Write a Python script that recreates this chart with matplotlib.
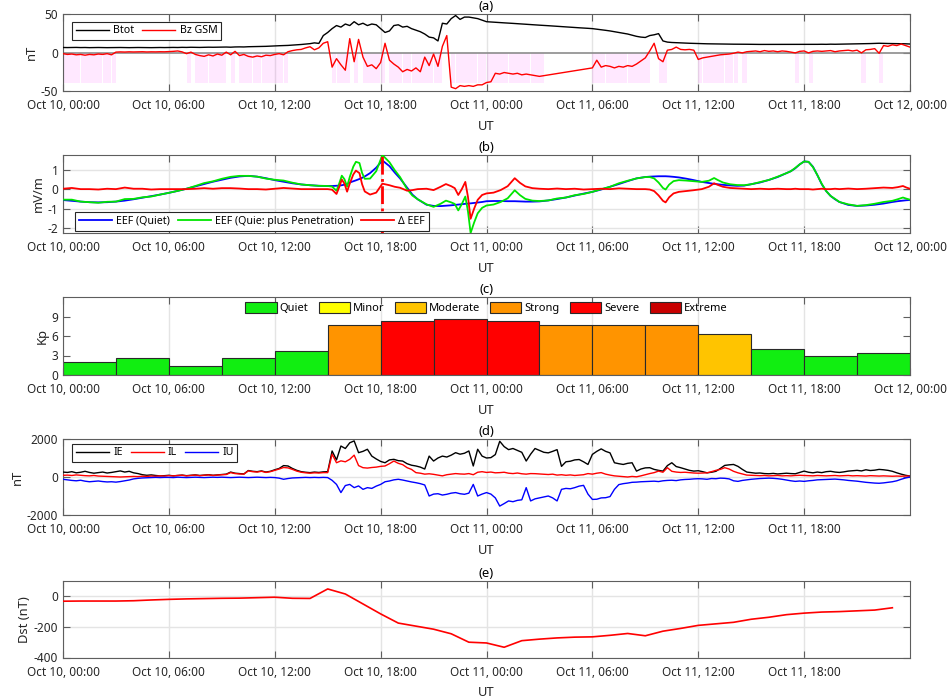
import numpy as np
import matplotlib
matplotlib.use('Agg')
import matplotlib.pyplot as plt
from matplotlib.patches import Patch

plt.rcParams['font.family'] = ['Noto Sans', 'DejaVu Sans']
plt.rcParams['axes.unicode_minus'] = False

# ---------------- axis labels ----------------
tick_hours = [0, 6, 12, 18, 24, 30, 36, 42, 48]
tick_labels = ['Oct 10, 00:00', 'Oct 10, 06:00', 'Oct 10, 12:00', 'Oct 10, 18:00',
               'Oct 11, 00:00', 'Oct 11, 06:00', 'Oct 11, 12:00', 'Oct 11, 18:00',
               'Oct 12, 00:00']

# ---------------- (a) IMF, 15-min samples from Oct 10 00:00 ----------------
imf_step_h = 0.25
btot = [6.5, 6.4, 6.5, 6.6, 6.4, 6.5, 6.3, 6.4, 6.5, 6.4, 6.3, 6.4,
        6.4, 6.5, 6.4, 6.3, 6.4, 6.5, 6.4, 6.4, 6.3, 6.4, 6.5, 6.4,
        6.5, 6.6, 6.5, 6.7, 6.6, 6.8, 6.7, 6.6, 6.8, 6.9, 6.8, 6.9,
        7.0, 7.1, 6.9, 7.2, 7.3, 7.2, 7.5, 7.6, 7.8, 7.7, 8.0, 8.3,
        8.5, 8.8, 9.0, 9.2, 9.6, 10.0, 10.4, 11.0, 11.5, 12.5, 11.8, 22.0,
        26, 31, 35, 33, 37, 35, 40, 36, 38, 35, 37, 36,
        31, 26, 28, 35, 36, 33, 34, 31, 29, 27, 24, 20,
        19, 15, 38, 37, 44, 48, 43, 46, 46, 45, 44, 42,
        40, 39.6, 39.2, 38.9, 38.5, 38.2, 37.8, 37.4, 37.0, 36.6, 36.3, 35.9,
        35.5, 35.2, 34.8, 34.4, 34.0, 33.6, 33.3, 32.9, 32.5, 32.1, 31.8, 31.4,
        31.0, 30.3, 29.5, 28.8, 28.0, 27.0, 26.0, 25.0, 24.0, 22.5, 21.0, 20.0,
        19.5, 22, 23, 24.5, 15, 13.5, 13, 12.8, 12.5, 12.2, 12.0, 11.8,
        11.5, 11.4, 11.3, 11.2, 11.0, 11.0, 10.9, 10.9, 10.8, 10.8, 10.7, 10.7,
        10.6, 10.6, 10.5, 10.5, 10.5, 10.5, 10.4, 10.5, 10.5, 10.4, 10.5, 10.5,
        10.5, 10.6, 10.5, 10.6, 10.7, 10.6, 10.8, 10.7, 10.8, 10.9, 11.0, 11.0,
        11.2, 11.3, 11.5, 11.6, 11.8, 12.0, 11.8, 11.7, 11.6, 11.5, 11.4, 11.3,
        11.0]
nan = np.nan
bz_gsm = [-1.5, -2.5, -2.0, -3.0, -2.5, -3.5, -2.5, -3.0, -2.0, -2.5, -1.5, -3.0,
          0.5, 0.8, 0.6, 0.9, 0.7, 0.8, 1.0, 0.7, 0.9, 0.8, 1.0, 0.9,
          1.2, 1.5, 2.0, 0.8, -1.5, 0.5, -2.5, -4.0, -5.0, -3.0, -4.5, -2.0,
          -3.5, 0.5, -3.0, 1.5, -4.0, -2.5, -5.0, -6.0, -4.5, -5.5, -3.5, -4.0,
          -2.5, -1.5, -3.0, 1.0, 2.5, 3.5, 4.0, 6.0, 7.5, 3.5, 6.0, 12.0,
          14, -19, -8, -16, -23, 18, -12, 17, -6, -18, -16, -21,
          -13, 12, -10, -15, -19, -25, -22, -24, -20, -25, -6, -17,
          -2, -18, 8, 22, -45, -47, -43, -44, -43, -44, -42, -42,
          -39, -38, -27, -28, -26, -27, -28, -27, -29, -28, -29, -30,
          -31, nan, nan, nan, nan, nan, nan, nan, nan, nan, nan, nan,
          -20, -10, -19, -17, -18, -20, -18, -19, -17, -18, -15, -11,
          -7, 2, 12, -8, -12, 3, 4, 7, 4, 3.5, 4, 3,
          -9, -7, -6, -5, -4, -3, -2.5, -2, -1, 0.5, -0.5, 1,
          1.5, 2, 1, 2.5, 1.5, 2, 1, 2, 1.5, 0.5, -0.5, 1.5,
          2, -0.5, 1.5, 2, 1.5, 2, 2.5, 1, 2, 2.5, 3, 2,
          3, -0.5, 3.5, 4, 5, -1, 9, 8, 10, 9, 11, 9,
          7]

# ---------------- (b) equatorial electric field ----------------
eef_hours = [0, 0.5, 1, 1.5, 2, 2.5, 3, 3.5, 4, 4.5, 5, 5.5, 6, 6.5, 7, 7.5, 8, 8.5,
             9, 9.5, 10, 10.5, 11, 11.5, 12, 12.5, 13, 13.5, 14, 14.5,
             15.0, 15.25, 15.5, 15.65, 15.8, 15.95, 16.1, 16.25, 16.45, 16.6, 16.8,
             16.95, 17.1, 17.4, 17.75, 18.1, 18.5, 18.8, 19.1, 19.5, 19.8, 20.1,
             20.6, 21.0, 21.4, 21.7, 22.0, 22.2, 22.4, 22.6, 22.8, 22.95, 23.1,
             23.3, 23.5, 23.75, 24.0, 24.4, 24.8, 25.2, 25.6, 25.9, 26.2, 26.6,
             27.0, 27.5, 28.0, 28.5, 29.0, 29.5, 30.0, 30.5, 31.0, 31.5, 32.0, 32.5, 33.0,
             33.25, 33.5, 33.75, 34.0, 34.15, 34.35, 34.6, 34.9, 35.3, 35.7, 36.2,
             36.6, 36.9, 37.1, 37.4, 37.8, 38.2, 38.6,
             39.0, 39.5, 40.0, 40.5, 41.0, 41.25, 41.5, 41.75, 42.0, 42.25, 42.5,
             42.75, 43.0, 43.25, 43.5, 43.75, 44.0, 44.5, 45.0, 45.5, 46.0, 46.5,
             47.0, 47.3, 47.6, 47.8, 48.0]
eef_quiet = [-0.56, -0.60, -0.64, -0.67, -0.68, -0.67, -0.64, -0.59, -0.52, -0.44,
             -0.36, -0.28, -0.19, -0.09, 0.02, 0.14, 0.26, 0.38, 0.48, 0.58, 0.65,
             0.68, 0.64, 0.56, 0.46, 0.38, 0.30, 0.24, 0.20, 0.17,
             0.16, 0.16, 0.17, 0.18, 0.20, 0.23, 0.26, 0.34, 0.40, 0.45, 0.52,
             0.58, 0.65, 0.82, 1.10, 1.47, 1.18, 0.85, 0.55, 0.08, -0.28, -0.52,
             -0.80, -0.86, -0.87, -0.85, -0.83, -0.81, -0.79, -0.77, -0.75, -0.74,
             -0.73, -0.71, -0.69, -0.66, -0.62, -0.61, -0.61, -0.62, -0.62, -0.63,
             -0.64, -0.64,
             -0.63, -0.58, -0.51, -0.43, -0.33, -0.23, -0.14, -0.02, 0.12, 0.26,
             0.41, 0.55, 0.62,
             0.64, 0.65, 0.66, 0.66, 0.66, 0.65, 0.63, 0.60, 0.54, 0.47, 0.37,
             0.31, 0.27, 0.25, 0.22, 0.19, 0.17, 0.18,
             0.25, 0.34, 0.47, 0.62, 0.82, 0.92, 1.07, 1.27, 1.42, 1.40, 1.15,
             0.72, 0.25, -0.10, -0.35, -0.52, -0.66, -0.81, -0.86, -0.84, -0.80,
             -0.74, -0.66, -0.62, -0.59, -0.57, -0.56]
eef_delta = [0.02, 0.06, 0.0, 0.0, -0.02, 0.02, 0.0, 0.08, 0.02, 0.02,
             -0.02, 0.0, 0.0, 0.0, 0.0, 0.02, 0.05, 0.02, 0.05, 0.05, 0.03,
             0.0, 0.0, -0.02, 0.02, 0.06, 0.03, 0.0, 0.0, 0.0,
             0.0, -0.03, -0.25, 0.10, 0.49, 0.28, -0.13, 0.28, 0.75, 0.95, 0.82,
             0.25, -0.12, -0.28, -0.18, 0.28, 0.20, 0.12, 0.07, -0.08, -0.05, 0.0,
             0.02, -0.05, 0.12, 0.26, 0.15, 0.05, -0.30, 0.0, 0.37, -0.40,
             -1.52, -1.00, -0.55, -0.30, -0.22, -0.18, -0.05, 0.15, 0.56, 0.32,
             0.14, 0.05,
             0.02, 0.0, 0.03, 0.0, 0.02, -0.02, 0.0, 0.02, 0.0, 0.04,
             0.02, 0.0, 0.0,
             -0.02, -0.10, -0.32, -0.60, -0.68, -0.42, -0.22, -0.14, -0.10, -0.06, 0.0,
             0.12, 0.30, 0.22, 0.12, 0.06, 0.04, 0.02,
             0.0, 0.02, 0.0, 0.02, 0.0, 0.0, 0.02, 0.0, 0.0, 0.0, -0.02,
             0.0, 0.02, 0.0, 0.0, 0.02, 0.0, 0.03, 0.0, 0.02, 0.05,
             0.08, 0.06, 0.10, 0.16, 0.08, 0.02]
eef_marker_hour = 18.05

# ---------------- (c) Kp, 3-hourly ----------------
kp_step_h = 3
kp = [2.0, 2.67, 1.33, 2.67, 3.67, 7.67, 8.33, 8.67,
      8.33, 7.67, 7.67, 7.67, 6.33, 4.0, 3.0, 3.33]
kp_classes = ['Quiet', 'Minor', 'Moderate', 'Strong', 'Severe', 'Extreme']
kp_class_min = [0, 5, 6, 7, 8, 9]
kp_colors = ['#11ee11', '#ffff00', '#ffc400', '#ff9400', '#ff0000', '#c80000']

# ---------------- (d) auroral indices, 15-min samples ----------------
idx_step_h = 0.25
ie = [260, 240, 280, 220, 250, 300, 240, 200, 230, 260, 210, 240,
      280, 320, 260, 300, 220, 180, 120, 90, 110, 80, 60, 70,
      90, 60, 80, 100, 70, 90, 110, 80, 100, 120, 90, 110,
      130, 150, 260, 200, 180, 160, 340, 300, 280, 320, 260, 300,
      380, 450, 600, 580, 450, 350, 280, 250, 230, 260, 240, 270,
      280, 1370, 900, 1630, 1500, 1800, 1900, 1280, 1350, 1460, 1100, 950,
      820, 750, 900, 930, 860, 840, 700, 620, 580, 520, 420, 1100,
      840, 1000, 1100, 1050, 1150, 1280, 1200, 1250, 1370, 580, 1460, 1100,
      1000, 1020, 1180, 1880, 1600, 1440, 1500, 1400, 1300, 840, 1200, 1500,
      1400, 1300, 1270, 1350, 1440, 560, 800, 830, 900, 920, 800, 660,
      1190, 1350, 1480, 1350, 1270, 750, 700, 660, 720, 750, 310, 420,
      480, 490, 400, 350, 310, 600, 750, 550, 490, 420, 350, 310,
      330, 280, 220, 250, 300, 450, 610, 640, 660, 560, 400, 260,
      230, 200, 210, 180, 170, 190, 160, 180, 200, 180, 170, 240,
      310, 250, 220, 260, 230, 280, 300, 260, 240, 270, 310, 330,
      350, 320, 380, 340, 360, 400, 380, 350, 300, 220, 150, 90,
      50]
il = [90, 100, 80, 110, 90, 70, 60, 80, 50, 40, 30, 20,
      10, 0, 10, 20, 30, 20, 40, 30, 50, 40, 60, 50,
      70, 60, 80, 90, 60, 80, 100, 70, 90, 110, 80, 100,
      120, 130, 230, 180, 160, 150, 320, 280, 260, 300, 240, 280,
      350, 420, 500, 480, 400, 310, 250, 220, 200, 220, 210, 230,
      230, 1200, 750, 850, 800, 930, 1150, 600, 490, 470, 500, 520,
      560, 580, 700, 840, 720, 650, 490, 400, 230, 200, 150, 170,
      140, 100, 60, 120, 150, 180, 160, 150, 180, 120, 250, 280,
      240, 260, 220, 230, 250, 200, 180, 210, 170, 150, 180, 175,
      160, 140, 130, 150, 100, 120, 90, 110, 80, 100, 120, 180,
      150, 200, 230, 150, 100, 60, 40, 20, 0, 30, 10, 60,
      120, 180, 230, 310, 250, 490, 300, 260, 240, 250, 230, 210,
      200, 210, 220, 280, 350, 400, 490, 420, 300, 220, 160, 100,
      90, 80, 70, 80, 60, 70, 80, 60, 70, 60, 80, 90,
      80, 70, 60, 80, 70, 60, 70, 80, 60, 70, 80, 60,
      70, 60, 50, 70, 60, 50, 60, 50, 40, 50, 40, 50,
      50]
iu = [-120, -150, -180, -200, -170, -220, -250, -230, -210, -240, -260, -250,
      -270, -240, -200, -160, -100, -70, -50, -40, -30, -20, -30, -20,
      -20, -30, -10, -20, -30, -20, -10, -20, -30, -20, -10, -20,
      -10, -20, -30, -20, -10, -20, -30, -20, -10, -20, -30, -20,
      -30, -60, -120, -80, -50, -40, -30, -20, -30, -20, -30, -20,
      -30, -175, -390, -820, -450, -390, -560, -470, -650, -560, -600, -480,
      -390, -250, -210, -150, -120, -160, -210, -260, -300, -350, -420, -1000,
      -900, -880, -950, -910, -850, -820, -880, -910, -850, -390, -1000, -900,
      -820, -900, -1100, -1530, -1400, -1260, -1300, -1230, -1200, -560, -1260, -1150,
      -1100, -1050, -1000, -1100, -1260, -650, -600, -620, -560, -480, -440, -900,
      -1180, -1170, -1100, -1090, -1030, -650, -400, -350, -320, -280, -270, -250,
      -240, -230, -220, -240, -200, -180, -170, -190, -150, -130, -120, -100,
      -90, -100, -120, -80, -90, -60, -70, -100, -200, -230, -180, -150,
      -120, -100, -80, -70, -60, -70, -90, -120, -160, -200, -230, -210,
      -230, -200, -180, -150, -140, -130, -120, -110, -130, -150, -180, -200,
      -220, -250, -280, -300, -320, -330, -310, -280, -250, -200, -120, -50,
      0]

# ---------------- (e) Dst, hourly ----------------
dst_step_h = 1
dst = [-32, -31, -31, -31, -29, -24, -20, -17, -15, -13, -12, -9,
       -6, -13, -14, 48, 15, -50, -115, -175, -195, -215, -245, -300,
       -305, -333, -290, -280, -272, -267, -265, -255, -243, -258, -228, -210,
       -190, -180, -170, -150, -137, -120, -110, -103, -100, -95, -90, -75]

# ---------------- figure ----------------
W, H = 951, 698
fig = plt.figure(figsize=(W / 100, H / 100), dpi=100)


def rect(top_px, bot_px, left_px=63, right_px=910):
    return [left_px / W, 1 - bot_px / H, (right_px - left_px) / W, (bot_px - top_px) / H]


FRAME = '#5e5e5e'
TXT = '#262626'
GRID = '#e4e4e4'
FS = 8.5
LFS = 7.65
TFS = 9.35


def style(ax, n_labels, ylabel, title, ygrid=False):
    ax.set_xlim(0, 48)
    ax.set_xticks(tick_hours[:n_labels])
    ax.set_xticklabels(tick_labels[:n_labels])
    ax.tick_params(axis='both', direction='in', top=True, right=True, length=5,
                   width=0.8, color=FRAME, labelcolor=TXT, labelsize=FS)
    ax.tick_params(axis='x', pad=6)
    ax.tick_params(axis='y', pad=3.4)
    for sp in ax.spines.values():
        sp.set_color(FRAME)
        sp.set_linewidth(0.8)
    ax.set_axisbelow(True)
    ax.grid(True, axis='x', color=GRID, lw=1.0)
    if ygrid:
        ax.grid(True, axis='y', color=GRID, lw=1.0)
    ax.set_xlabel('UT', fontsize=TFS, color=TXT, labelpad=5.5)
    ax.set_ylabel(ylabel, fontsize=TFS, color=TXT, labelpad=2)
    ax.set_title(title, fontsize=TFS, fontweight='bold', color='black', pad=3)


def legend_box(ax, **kw):
    leg = ax.legend(fontsize=LFS, fancybox=False, framealpha=1, edgecolor=TXT,
                    borderaxespad=0, handlelength=3.1, handletextpad=0.4,
                    columnspacing=0.75, borderpad=0.35, **kw)
    leg.get_frame().set_linewidth(0.8)
    return leg


# (a)
ax = fig.add_axes(rect(14, 91))
t_imf = np.arange(len(btot)) * imf_step_h
bz_arr = np.array(bz_gsm, dtype=float)
neg = np.nan_to_num(bz_arr, nan=0.0) < 0
ax.bar(t_imf[neg], -40, width=imf_step_h * 0.95, bottom=0, align='edge',
       color='#ff00ff', alpha=0.09, linewidth=0, zorder=1)
ax.axhline(0, color='#8c8c8c', lw=1.2, zorder=2)
ok = ~np.isnan(bz_arr)
ax.plot(t_imf, btot, color='black', lw=1.0, label='Btot', zorder=3)
ax.plot(t_imf[ok], bz_arr[ok], color='red', lw=1.0, label='Bz GSM', zorder=3)
ax.set_ylim(-50, 50)
ax.set_yticks([-50, 0, 50])
style(ax, 9, 'nT', '(a)')
legend_box(ax, loc='upper left', bbox_to_anchor=(0.011, 0.9), ncol=2)

# (b)
ax = fig.add_axes(rect(155, 233))
eq = np.array(eef_quiet)
ed = np.array(eef_delta)
ax.plot(eef_hours, eq, color='#0000ff', lw=1.3, label='EEF (Quiet)', zorder=3)
ax.plot(eef_hours, eq + ed, color='#00e600', lw=1.3,
        label='EEF (Quie: plus Penetration)', zorder=3)
ax.plot(eef_hours, ed, color='red', lw=1.3, label='Δ EEF', zorder=3)
ax.axvline(eef_marker_hour, color='red', lw=2.0, ls='-.', zorder=4)
ax.set_ylim(-2.25, 1.75)
ax.set_yticks([-2, -1, 0, 1])
style(ax, 9, 'mV/m', '(b)', ygrid=True)
legend_box(ax, loc='lower left', bbox_to_anchor=(0.014, 0.03), ncol=3)

# (c)
ax = fig.add_axes(rect(297, 375))
kp_start = np.arange(len(kp)) * kp_step_h
cls = [max(i for i, m in enumerate(kp_class_min) if v >= m) for v in kp]
ax.bar(kp_start, kp, width=kp_step_h, align='edge',
       color=[kp_colors[c] for c in cls], edgecolor='#2a2a2a', linewidth=0.8, zorder=2)
ax.set_ylim(0, 12)
ax.set_yticks([0, 3, 6, 9])
style(ax, 9, 'Kp', '(c)')
handles = [Patch(facecolor=c, edgecolor='#2a2a2a', lw=0.8, label=n)
           for n, c in zip(kp_classes, kp_colors)]
ax.legend(handles=handles, loc='upper center', bbox_to_anchor=(0.5, 0.99), ncol=6,
          frameon=False, fontsize=8.0, handlelength=2.8, handleheight=1.05,
          handletextpad=0.3, columnspacing=0.9, borderaxespad=0)

# (d)
ax = fig.add_axes(rect(439, 515))
t_idx = np.arange(len(ie)) * idx_step_h
ax.plot(t_idx, ie, color='black', lw=1.0, label='IE', zorder=3)
ax.plot(t_idx, il, color='red', lw=1.0, label='IL', zorder=3)
ax.plot(t_idx, iu, color='blue', lw=1.0, label='IU', zorder=3)
ax.set_ylim(-2000, 2000)
ax.set_yticks([-2000, 0, 2000])
style(ax, 8, 'nT', '(d)', ygrid=True)
legend_box(ax, loc='upper left', bbox_to_anchor=(0.011, 0.94), ncol=3)

# (e)
ax = fig.add_axes(rect(581, 657.5))
t_dst = np.arange(len(dst)) * dst_step_h
ax.plot(t_dst, dst, color='red', lw=1.2, zorder=3)
ax.set_ylim(-400, 100)
ax.set_yticks([-400, -200, 0])
style(ax, 8, 'Dst (nT)', '(e)', ygrid=True)

fig.savefig('out.png', dpi=100)
